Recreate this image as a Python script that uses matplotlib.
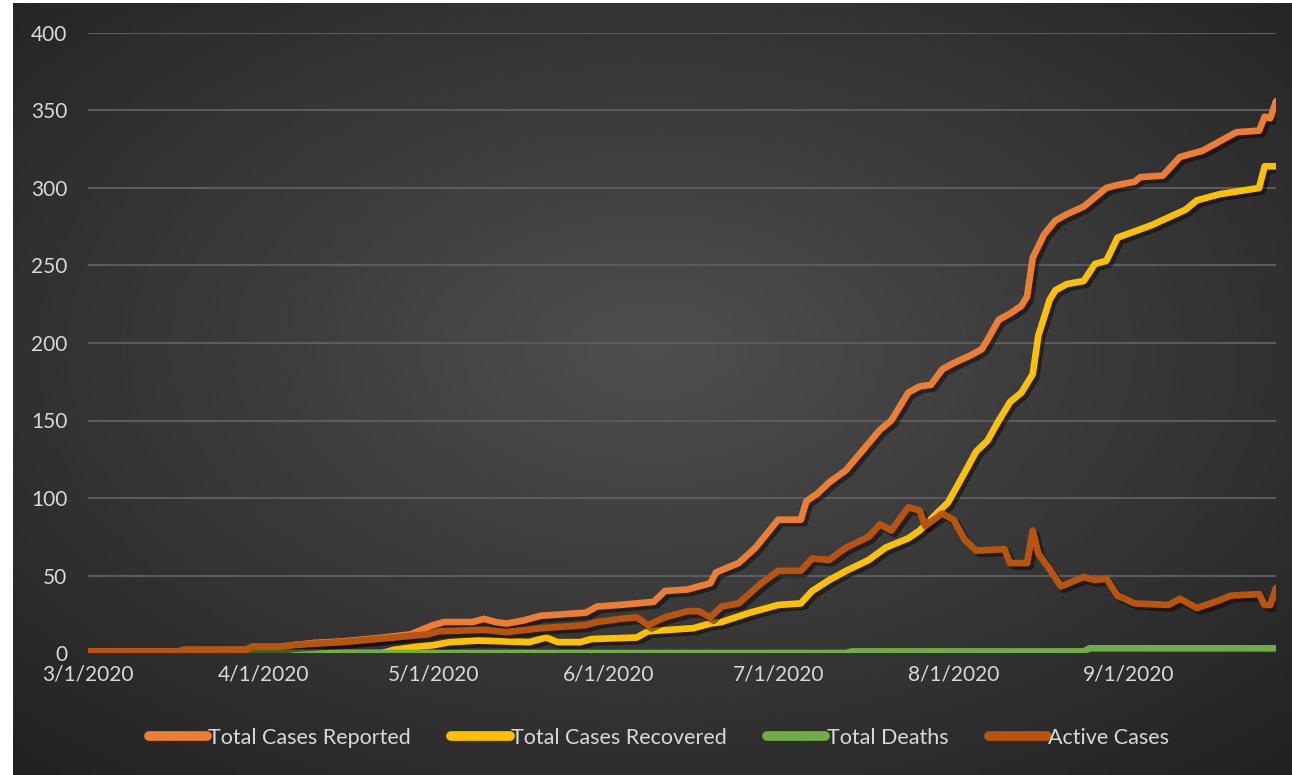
import matplotlib
matplotlib.use("Agg")
import matplotlib.pyplot as plt
import matplotlib.patheffects as pe
import numpy as np
import pandas as pd

start = pd.Timestamp("2020-03-01")

# values, (day offset from 3/1/2020, count)
reported_days = [0, 16, 17, 28, 29, 34, 36, 40, 45, 51, 57, 59, 61, 63, 68, 70, 72, 74, 77, 80,
                 88, 90, 94, 97, 100, 102, 106, 108, 110, 111, 113, 115, 118, 120, 122, 126, 127,
                 129, 131, 134, 137, 140, 142, 145, 147, 149, 151, 153, 156, 158, 159, 161, 163,
                 165, 166, 167, 169, 171, 173, 176, 178, 180, 182, 185, 186, 190, 193, 197, 201,
                 203, 207, 208, 209, 210]
reported_vals = [1, 1, 2, 2, 4, 4, 5, 6.5, 7.5, 9.5, 12, 15, 18, 20, 20, 22, 20, 19, 21, 24,
                 26, 30, 31, 32, 33, 40, 41, 43, 45, 52, 55, 58, 68, 77, 86, 86, 98,
                 103, 110, 118, 131, 144, 150, 168, 172, 173, 183, 187, 192, 196, 202, 215, 219,
                 224, 230, 255, 270, 279, 283, 288, 294, 300, 302, 304, 307, 308, 320, 324, 332,
                 336, 337, 346, 345, 356]

recovered_days = [0, 52, 54, 58, 61, 64, 69, 78, 81, 83, 87, 89, 97, 99, 107, 110, 112, 117,
                  120, 122, 126, 128, 131, 134, 138, 141, 145, 147, 150, 152, 154, 157, 159,
                  161, 163, 165, 167, 168, 170, 171, 173, 176, 178, 180, 182, 185, 188, 191,
                  194, 196, 200, 207, 208, 210]
recovered_vals = [0, 0, 2, 4, 5, 7, 8, 7, 10, 7, 7, 9, 10, 14, 16, 19, 20, 26,
                  29, 31, 32, 40, 47, 53, 60, 68, 74, 79, 90, 97, 110, 130, 137,
                  150, 162, 168, 180, 205, 228, 234, 238, 240, 251, 253, 268, 272, 276, 281,
                  286, 292, 296, 300, 314, 314]

deaths_days = [0, 134, 135, 176, 177, 210]
deaths_vals = [0, 0, 1, 1, 3, 3]

active_days = [0, 16, 17, 28, 29, 34, 36, 40, 45, 51, 57, 60, 62, 70, 74, 80, 88, 90, 94, 97,
               99, 102, 106, 108, 110, 112, 115, 119, 122, 126, 128, 131, 134, 138, 140, 142,
               145, 147, 148, 151, 153, 155, 157, 162, 163, 166, 167, 168, 170, 172, 176, 178,
               180, 182, 185, 191, 193, 196, 200, 202, 207, 208, 209, 210]
active_vals = [1, 1, 2, 2, 4, 4, 5, 6, 7, 9, 11, 12, 14, 15, 13.5, 16, 18, 20, 22, 23,
               18, 23, 27, 27, 23, 30, 32, 45, 53, 53, 61, 60, 68, 75, 83, 79,
               94, 92, 82, 90, 86, 73, 66, 67, 58, 58, 79, 64, 54, 43, 49, 47,
               48, 37, 32, 31, 35, 29, 34, 37, 38, 31, 31, 42]

series = [
    ("Total Cases Reported", reported_days, reported_vals, "#ED7D31"),
    ("Total Cases Recovered", recovered_days, recovered_vals, "#FFC000"),
    ("Total Deaths", deaths_days, deaths_vals, "#70AD47"),
    ("Active Cases", active_days, active_vals, "#B8540E"),
]

tick_dates = pd.date_range("2020-03-01", "2020-09-01", freq="MS")
tick_labels = ["3/1/2020", "4/1/2020", "5/1/2020", "6/1/2020", "7/1/2020", "8/1/2020", "9/1/2020"]

plt.rcParams["font.family"] = ["Lato", "DejaVu Sans"]

W, H = 1292, 775
fig = plt.figure(figsize=(W / 100, H / 100), dpi=100, facecolor="white")

# dark radial gradient background
bg = fig.add_axes([13 / W, 0, 1 - 13 / W, 1 - 3 / H], zorder=-5)
yy, xx = np.mgrid[0:1:300j, 0:1:500j]
r = np.sqrt(((xx - 0.5) / 0.75) ** 2 + ((yy - 0.45) / 0.75) ** 2)
shade = np.clip(0.31 - 0.18 * r, 0.13, 0.31)
bg.imshow(shade, cmap="gray", vmin=0, vmax=1, aspect="auto", extent=[0, 1, 0, 1],
          interpolation="bicubic")
bg.axis("off")

ax = fig.add_axes([88 / W, 1 - 653 / H, (1276 - 88) / W, (653 - 33) / H])
ax.patch.set_alpha(0)

shadow = [pe.SimpleLineShadow(offset=(2.5, -2.5), shadow_color="black", alpha=0.45),
          pe.Normal()]
for name, days, vals, col in series:
    dates = start + pd.to_timedelta(days, unit="D")
    ax.plot(dates, vals, color=col, lw=4.8, label=name, solid_joinstyle="round",
            solid_capstyle="round", path_effects=shadow)

ax.set_xlim(start, start + pd.Timedelta(days=210))
ax.set_ylim(0, 400)
ax.set_yticks(np.arange(0, 401, 50))
ax.set_xticks(tick_dates)
ax.set_xticklabels(tick_labels)
ax.grid(axis="y", color="#5c5c5c", lw=1.5)
ax.set_axisbelow(True)
for s in ax.spines.values():
    s.set_visible(False)
ax.tick_params(length=0, colors="#d9d9d9", labelsize=15)
ax.tick_params(axis="y", pad=15)
ax.tick_params(axis="x", pad=8)
for lab in ax.get_yticklabels():
    lab.set_verticalalignment("center_baseline")

leg = fig.legend(loc="center", bbox_to_anchor=(0.51, 1 - 738 / H), ncol=4, frameon=False,
                 fontsize=15.5, handlelength=2.7, handletextpad=0.05, columnspacing=1.9)
for t in leg.get_texts():
    t.set_color("#d9d9d9")
for h in leg.legend_handles:
    h.set_linewidth(7)
    h.set_solid_capstyle("round")
    h.set_path_effects([])

fig.savefig("out.png", dpi=100, facecolor=fig.get_facecolor())
